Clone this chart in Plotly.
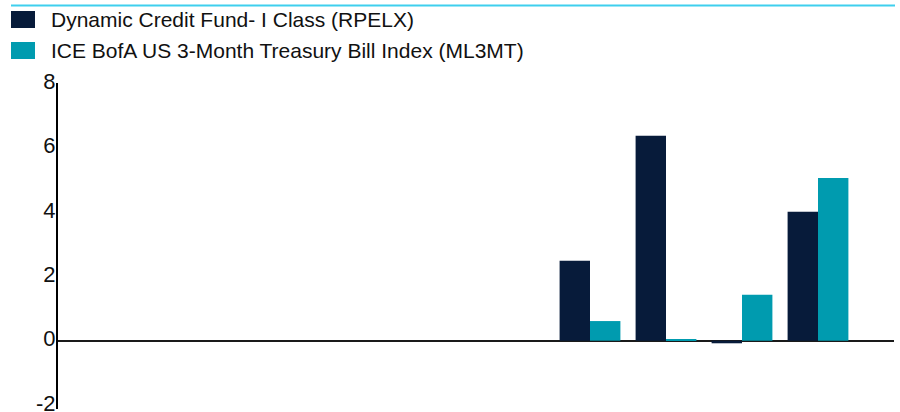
import plotly.graph_objects as go

# ---- data ----
years = ["2014", "2015", "2016", "2017", "2018", "2019", "2020", "2021", "2022", "2023"]
fund_name = "Dynamic Credit Fund- I Class (RPELX)"
index_name = "ICE BofA US 3-Month Treasury Bill Index (ML3MT)"
fund_values = [None, None, None, None, None, None, 2.48, 6.36, -0.08, 4.00]
index_values = [None, None, None, None, None, None, 0.61, 0.05, 1.43, 5.05]
y_ticks = [-2, 0, 2, 4, 6, 8]

# ---- style ----
W, H = 900, 412
ML, MR, MT, MB = 58, 6, 83, 3
DARK = "#071B3A"
TEAL = "#009BAF"
CYAN = "#3FCFEE"
FONT = "Liberation Sans, Arial, sans-serif"

def px_x(p):
    return (p - ML) / (W - ML - MR)

def px_y(p):
    return (H - MB - p) / (H - MT - MB)

fig = go.Figure()
fig.add_trace(go.Bar(x=years, y=fund_values, name=fund_name,
                     marker=dict(color=DARK, line=dict(width=0)), showlegend=False))
fig.add_trace(go.Bar(x=years, y=index_values, name=index_name,
                     marker=dict(color=TEAL, line=dict(width=0)), showlegend=False))

shapes = [
    dict(type="line", xref="paper", yref="paper",
         x0=px_x(11), x1=px_x(895), y0=px_y(5.5), y1=px_y(5.5),
         line=dict(color=CYAN, width=2)),
]
annotations = []
for i, (nm, col) in enumerate([(fund_name, DARK), (index_name, TEAL)]):
    top = 11 + i * 31
    shapes.append(dict(type="rect", xref="paper", yref="paper",
                       x0=px_x(11), x1=px_x(35), y0=px_y(top), y1=px_y(top + 17),
                       fillcolor=col, line=dict(width=0)))
    annotations.append(dict(xref="paper", yref="paper", x=px_x(49), y=px_y(top + 8.5),
                            xanchor="left", yanchor="middle", text=nm, showarrow=False,
                            font=dict(family=FONT, size=21, color="#111111")))

fig.update_layout(
    width=W, height=H, autosize=False,
    margin=dict(l=ML, r=MR, t=MT, b=MB, pad=0, autoexpand=False),
    paper_bgcolor="white", plot_bgcolor="white",
    barmode="group", bargap=0.2, bargroupgap=0,
    font=dict(family=FONT, size=21, color="#111111"),
    shapes=shapes, annotations=annotations,
    showlegend=False,
)
fig.update_xaxes(type="category", range=[-1, 10], showticklabels=False, automargin=False,
                 showgrid=False, zeroline=False, showline=False, ticks="")
fig.update_yaxes(range=[-2.12, 8], tickvals=y_ticks, ticktext=[str(v) for v in y_ticks],
                 automargin=False,
                 showgrid=False, zeroline=True, zerolinecolor="#1a1a1a", zerolinewidth=1.6,
                 showline=True, linecolor="#000000", linewidth=2, ticks="",
                 ticklabeloverflow="allow", ticklabelstandoff=-4, ticklabelshift=-2,
                 tickfont=dict(family=FONT, size=22, color="#111111"))

fig.write_html(
    "out.html",
    config={"displayModeBar": False},
    post_script="document.body.style.margin='0';document.body.style.overflow='hidden';"
                "document.documentElement.style.overflow='hidden';",
)
